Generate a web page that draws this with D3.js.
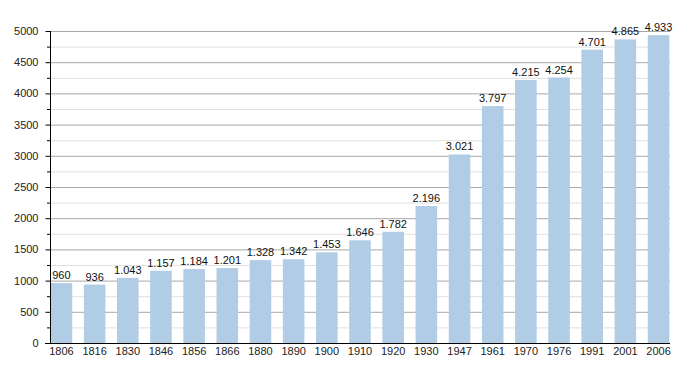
<!DOCTYPE html>
<html>
<head>
<meta charset="utf-8">
<script src="https://cdn.jsdelivr.net/npm/d3@7"></script>
<style>
  body { margin: 0; background: #fff; }
  svg { font-family: "Liberation Sans", Arial, sans-serif; }
</style>
</head>
<body>
<div id="chart"></div>
<script>
// data
var years = ["1806","1816","1830","1846","1856","1866","1880","1890","1900","1910","1920","1930","1947","1961","1970","1976","1991","2001","2006"];
var population = [960, 936, 1043, 1157, 1184, 1201, 1328, 1342, 1453, 1646, 1782, 2196, 3021, 3797, 4215, 4254, 4701, 4865, 4933];
var yTicks = [0, 500, 1000, 1500, 2000, 2500, 3000, 3500, 4000, 4500, 5000];

function init(){
  var w = 700, h = 373;
  var margin = {left: 50, right: 30, top: 31, bottom: 30};

  var svg = d3.select("#chart").append("svg")
    .attr("width", w).attr("height", h);

  var x = d3.scaleBand()
    .domain(years)
    .range([margin.left, w - margin.right])
    .paddingInner(0.35)
    .paddingOuter(0.02);

  var y = d3.scaleLinear()
    .domain([0, 5000])
    .range([h - margin.bottom, margin.top]);

  // minor grid
  svg.append("g").selectAll("line")
    .data(d3.range(250, 5000, 500))
    .enter().append("line")
    .attr("x1", margin.left).attr("x2", w - margin.right)
    .attr("y1", function(d){ return y(d) + 0.5; })
    .attr("y2", function(d){ return y(d) + 0.5; })
    .attr("stroke", "#e0e0e0");

  // major grid
  svg.append("g").selectAll("line")
    .data(yTicks.slice(1))
    .enter().append("line")
    .attr("x1", margin.left).attr("x2", w - margin.right)
    .attr("y1", function(d){ return y(d) + 0.5; })
    .attr("y2", function(d){ return y(d) + 0.5; })
    .attr("stroke", "#a8a8a8");

  // bars
  svg.append("g").selectAll("rect")
    .data(population)
    .enter().append("rect")
    .attr("x", function(d, i){ return x(years[i]); })
    .attr("y", function(d){ return y(d); })
    .attr("width", x.bandwidth())
    .attr("height", function(d){ return y(0) - y(d); })
    .attr("fill", "#b1cce5");

  // value labels, dot as thousands separator
  var fmt = d3.formatLocale({decimal: ",", thousands: ".", grouping: [3], currency: ["", ""]}).format(",d");
  svg.append("g").selectAll("text")
    .data(population)
    .enter().append("text")
    .attr("x", function(d, i){ return x(years[i]) + x.bandwidth() / 2; })
    .attr("y", function(d){ return y(d) - 4; })
    .attr("text-anchor", "middle")
    .style("font-size", "11px")
    .style("fill", "#111")
    .text(function(d){ return fmt(d); });

  // y axis
  var yAxis = svg.append("g")
    .attr("transform", "translate(" + (margin.left + 0.5) + ",0)")
    .call(d3.axisLeft(y).tickValues(yTicks).tickSize(5).tickFormat(d3.format("d")));
  yAxis.select(".domain").remove();
  yAxis.selectAll("text").style("font-size", "11px").style("fill", "#222").attr("x", -12);
  yAxis.selectAll("line").attr("stroke", "#000");

  // minor y ticks
  svg.append("g").selectAll("line")
    .data(d3.range(250, 5000, 500))
    .enter().append("line")
    .attr("x1", margin.left - 3).attr("x2", margin.left)
    .attr("y1", function(d){ return y(d) + 0.5; })
    .attr("y2", function(d){ return y(d) + 0.5; })
    .attr("stroke", "#000");

  svg.append("line")
    .attr("x1", margin.left + 0.5).attr("x2", margin.left + 0.5)
    .attr("y1", margin.top).attr("y2", y(0))
    .attr("stroke", "#000");

  // x axis
  var xAxis = svg.append("g")
    .attr("transform", "translate(0," + (y(0) + 0.5) + ")")
    .call(d3.axisBottom(x).tickSize(0).tickPadding(4));
  xAxis.select(".domain").attr("stroke", "#000")
    .attr("d", "M" + (margin.left - 5) + ",0H" + (w - margin.right));
  xAxis.selectAll("text").style("font-size", "11px").style("fill", "#222");
}
window.onload = init;
</script>
</body>
</html>
